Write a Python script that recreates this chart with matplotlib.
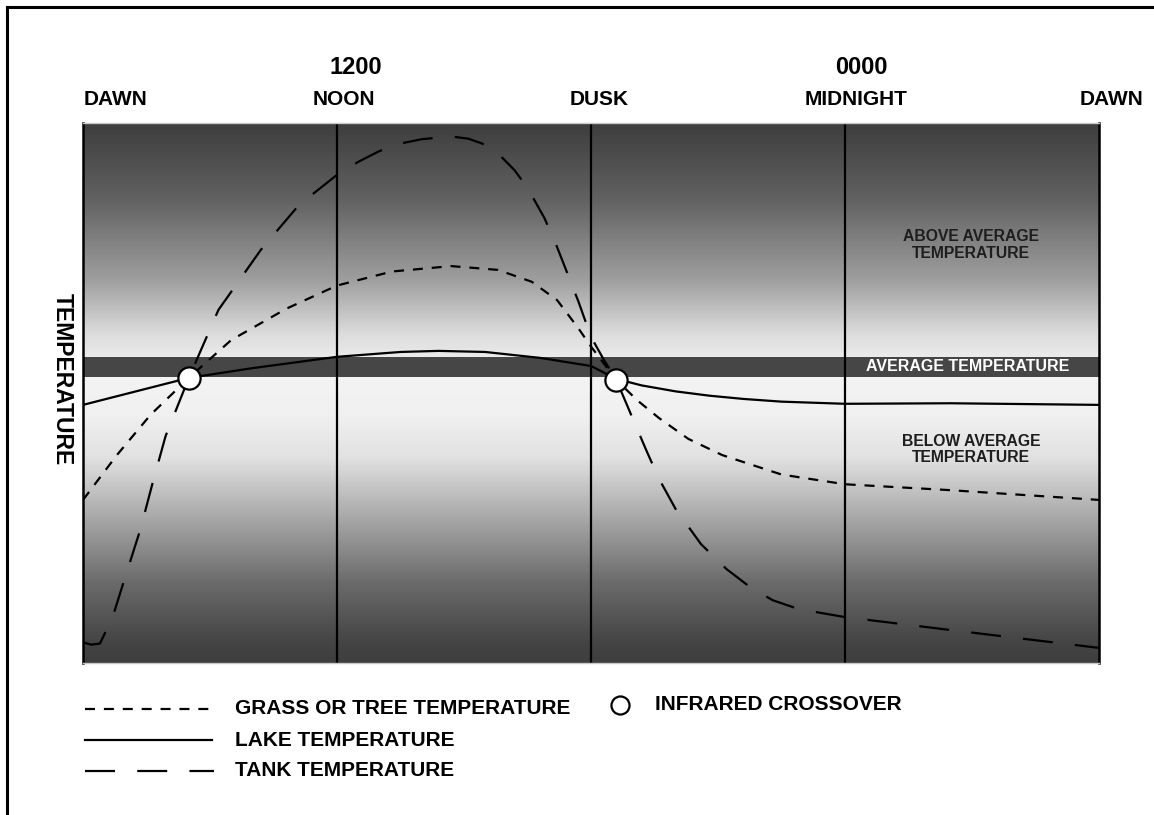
import numpy as np
import matplotlib.pyplot as plt
from matplotlib.lines import Line2D

plt.rcParams['font.family'] = ['Liberation Sans', 'DejaVu Sans']

# 时间轴: 0 = 黎明, 6 = 正午, 12 = 黄昏, 18 = 午夜, 24 = 黎明
time_labels = ['DAWN', 'NOON', 'DUSK', 'MIDNIGHT', 'DAWN']
clock_labels = ['1200', '0000']
divider_hours = [6, 12, 18]

# 平均温度带 (相对温度 0-100)
avg_low, avg_high = 53.0, 56.7

# 湖泊温度 (实线)
lake_x = [0, 1.0, 2.5, 4.0, 6.0, 7.5, 8.4, 9.5, 10.8, 12.0, 12.6, 13.2, 14.0, 14.8, 15.6, 16.5, 18.0, 20.5, 24.0]
lake_y = [47.8, 49.8, 52.8, 54.6, 56.7, 57.6, 57.8, 57.6, 56.5, 55.0, 52.6, 51.4, 50.3, 49.5, 48.9, 48.4, 48.0, 48.1, 47.8]

# 草地或树木温度 (短虚线)
grass_x = [0, 0.8, 1.6, 2.5, 3.5, 4.8, 6.0, 7.3, 8.7, 9.8, 10.6, 11.2, 11.7, 12.0, 12.6, 13.1, 13.6, 14.3, 15.1, 16.5, 18.0, 20.5, 24.0]
grass_y = [30.2, 38.5, 46.0, 52.8, 59.8, 65.6, 69.9, 72.5, 73.5, 72.8, 70.6, 67.2, 62.0, 58.6, 52.4, 48.6, 45.4, 41.5, 38.5, 34.9, 33.1, 32.0, 30.2]

# 坦克温度 (长虚线)
tank_x = [0, 0.2, 0.4, 0.7, 1.0, 1.35, 1.65, 1.95, 2.5, 3.2, 4.2, 5.1, 6.0, 6.5, 7.0, 7.5, 8.0, 8.4, 8.8, 9.1, 9.5, 9.8, 10.2, 10.5, 10.9, 11.2, 11.5, 11.7, 12.0, 12.3, 12.6,
          13.0, 13.3, 13.6, 14.0, 14.6, 15.2, 15.8, 16.3, 16.9, 18.0, 20.5, 24.0]
tank_y = [3.8, 3.4, 3.6, 8.5, 16.0, 24.6, 33.5, 42.0, 52.8, 65.4, 76.5, 84.8, 90.4, 92.8, 94.8, 96.2, 97.0, 97.3, 97.4, 97.1, 96.0, 94.4, 91.2, 88.0, 82.4, 77.0, 71.0, 67.0, 60.4, 56.2, 52.4,
          45.0, 39.5, 34.2, 28.5, 22.0, 17.4, 13.8, 11.6, 10.0, 8.5, 6.1, 2.8]

# 红外交叉点
cross_x = [2.5, 12.6]
cross_y = [52.8, 52.4]

fig = plt.figure(figsize=(11.54, 8.15), dpi=100)
W, H = 1154, 815
ax = fig.add_axes([83 / W, (H - 663) / H, (1099 - 83) / W, 540 / H])
ax.set_xlim(0, 24)
ax.set_ylim(0, 100)

# 背景渐变 (上下深, 中间浅)
prof_y = [0, 4, 15, 28, 38, 46, 53, 56.7, 58, 61, 71, 86, 100]
prof_g = [0.24, 0.27, 0.42, 0.68, 0.88, 0.94, 0.95, 0.92, 0.90, 0.86, 0.62, 0.38, 0.24]
yy = np.linspace(0, 100, 540)
gg = np.interp(yy, prof_y, prof_g)
ax.imshow(gg[:, None], extent=[0, 24, 0, 100], origin='lower', aspect='auto',
          cmap='gray', vmin=0, vmax=1, zorder=0)
ax.axhspan(avg_low, avg_high, color='#464646', zorder=1, lw=0)

for h in divider_hours:
    ax.axvline(h, color='black', lw=1.6, zorder=2)

lw = 1.6
ax.plot(lake_x, lake_y, color='black', lw=lw, zorder=3)
ax.plot(grass_x, grass_y, color='black', lw=lw, dashes=(4.5, 4), zorder=3)
ax.plot(tank_x, tank_y, color='black', lw=lw, dashes=(13.5, 10), zorder=3)
ax.plot(cross_x, cross_y, 'o', ms=16, mfc='white', mec='black', mew=1.6, zorder=4)

for s in ['top', 'bottom']:
    ax.spines[s].set_color('#c8c8c8')
    ax.spines[s].set_linewidth(1)
for s in ['left', 'right']:
    ax.spines[s].set_linewidth(1.8)
ax.set_xticks([])
ax.set_yticks([])

# 区域说明
ax.text(20.98, 77.4, 'ABOVE AVERAGE\nTEMPERATURE', ha='center', va='center',
        fontsize=11.3, fontweight='bold', color='#1e1e1e', linespacing=1.1, zorder=5)
ax.text(20.9, (avg_low + avg_high) / 2, 'AVERAGE TEMPERATURE', ha='center', va='center',
        fontsize=11.5, fontweight='bold', color='white', zorder=5)
ax.text(20.98, 39.5, 'BELOW AVERAGE\nTEMPERATURE', ha='center', va='center',
        fontsize=11.3, fontweight='bold', color='#1e1e1e', linespacing=1.1, zorder=5)

# 顶部时间标签
trans = ax.get_xaxis_transform()
for xp, lab in zip([0.76, 6.17, 12.19, 18.26, 24.29], time_labels):
    ax.text(xp, 1.0426, lab, transform=trans, ha='center', va='center',
            fontsize=15, fontweight='bold', clip_on=False)
for xp, lab in zip([6.45, 18.38], clock_labels):
    ax.text(xp, 1.102, lab, transform=trans, ha='center', va='center',
            fontsize=17, fontweight='bold', clip_on=False)
ax.text(-0.0207, 0.526, 'TEMPERATURE', transform=ax.transAxes, rotation=-90,
        ha='center', va='center', fontsize=16.5, fontweight='bold', clip_on=False)

# 覆盖层: 边框与图例 (像素坐标)
ov = fig.add_axes([0, 0, 1, 1], zorder=-1)
ov.set_xlim(0, W)
ov.set_ylim(H, 0)
ov.axis('off')
ov.plot([7, W], [7, 7], color='black', lw=2.2)
ov.plot([7, 7], [7, H], color='black', lw=2.2)

leg = fig.add_axes([0, 0, 1, 1])
leg.set_xlim(0, W)
leg.set_ylim(H, 0)
leg.axis('off')
leg.add_line(Line2D([85, 214], [709, 709], color='black', lw=lw, dashes=(4.5, 4)))
leg.add_line(Line2D([85, 212], [740, 740], color='black', lw=lw))
leg.add_line(Line2D([85, 214], [771, 771], color='black', lw=lw, dashes=(13.5, 10)))
leg.plot([620], [705], 'o', ms=13, mfc='white', mec='black', mew=1.6)
for yp, lab in zip([709, 740, 771], ['GRASS OR TREE TEMPERATURE', 'LAKE TEMPERATURE', 'TANK TEMPERATURE']):
    leg.text(235, yp, lab, ha='left', va='center', fontsize=15, fontweight='bold')
leg.text(655, 705, 'INFRARED CROSSOVER', ha='left', va='center', fontsize=15, fontweight='bold')

plt.savefig('out.png', dpi=100)
